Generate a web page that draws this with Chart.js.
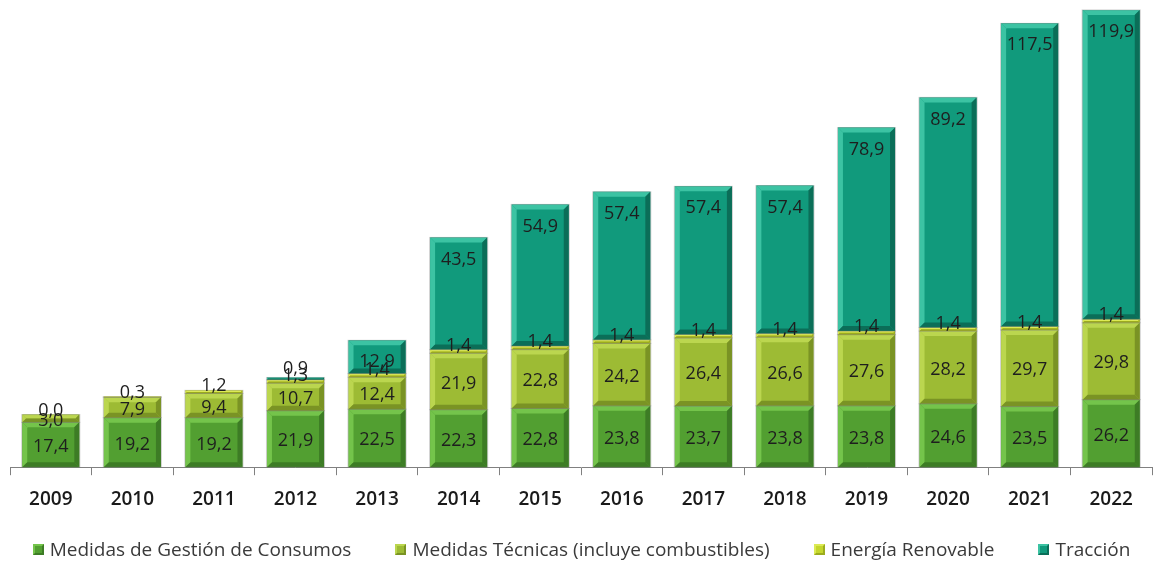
<!DOCTYPE html>
<html>
<head>
<meta charset="utf-8">
<script src="https://cdn.jsdelivr.net/npm/chart.js@4/dist/chart.umd.min.js"></script>
<style>
  html, body { margin: 0; padding: 0; background: #fff; }
  #wrap { position: relative; width: 1163px; height: 563px; }
  #legend {
    position: absolute; left: 0; top: 536px; width: 1163px; height: 26px;
    display: flex; justify-content: center; align-items: center; gap: 44px;
    font-family: "Open Sans", "Noto Sans", sans-serif; font-size: 19px; color: #3a3a3a;
  }
  #legend .item { display: flex; align-items: center; white-space: nowrap; }
  #legend .box {
    width: 7px; height: 7px; margin-right: 6px;
    border: 2px solid; box-sizing: content-box;
  }
</style>
</head>
<body>
<div id="wrap">
  <canvas id="ahorroChart" width="1163" height="563"></canvas>
  <div id="legend"></div>
</div>
<script>
const years = ['2009', '2010', '2011', '2012', '2013', '2014', '2015', '2016', '2017', '2018', '2019', '2020', '2021', '2022'];
const gestionConsumos = [17.4, 19.2, 19.2, 21.9, 22.5, 22.3, 22.8, 23.8, 23.7, 23.8, 23.8, 24.6, 23.5, 26.2];
const medidasTecnicas = [3.0, 7.9, 9.4, 10.7, 12.4, 21.9, 22.8, 24.2, 26.4, 26.6, 27.6, 28.2, 29.7, 29.8];
const energiaRenovable = [0.0, 0.3, 1.2, 1.3, 1.4, 1.4, 1.4, 1.4, 1.4, 1.4, 1.4, 1.4, 1.4, 1.4];
const traccion = [null, null, null, 0.9, 12.9, 43.5, 54.9, 57.4, 57.4, 57.4, 78.9, 89.2, 117.5, 119.9];

const seriesNames = ['Medidas de Gestión de Consumos', 'Medidas Técnicas (incluye combustibles)', 'Energía Renovable', 'Tracción'];
const seriesData = [gestionConsumos, medidasTecnicas, energiaRenovable, traccion];

// base / light / dark tones for each series
const palette = [
    { base: '#529f31', light: '#74c44b', dark: '#3d7c25' },
    { base: '#9dbb34', light: '#bbd64f', dark: '#7a9324' },
    { base: '#c4d62c', light: '#dcea55', dark: '#9cac1e' },
    { base: '#119a7c', light: '#3cc3a3', dark: '#0b6e58' },
];

const fmt = (v) => v.toFixed(1).replace('.', ',');
const fontFamily = '"Open Sans", "Noto Sans", sans-serif';

// beveled look for each bar segment
const bevelPlugin = {
    id: 'bevel',
    afterDatasetsDraw(chart) {
        const ctx = chart.ctx;
        chart.data.datasets.forEach((ds, i) => {
            const meta = chart.getDatasetMeta(i);
            const tone = palette[i];
            meta.data.forEach((bar) => {
                const p = bar.getProps(['x', 'y', 'base', 'width'], true);
                const top = Math.min(p.y, p.base);
                const bottom = Math.max(p.y, p.base);
                const h = bottom - top;
                if (!(h > 0.5)) return;
                const l = p.x - p.width / 2;
                const r = p.x + p.width / 2;
                const b = Math.min(5, h / 2);
                const poly = (pts, color) => {
                    ctx.beginPath();
                    ctx.moveTo(pts[0][0], pts[0][1]);
                    for (let k = 1; k < pts.length; k++) ctx.lineTo(pts[k][0], pts[k][1]);
                    ctx.closePath();
                    ctx.fillStyle = color;
                    ctx.fill();
                };
                ctx.save();
                poly([[l, top], [r, top], [r - b, top + b], [l + b, top + b]], tone.light);
                poly([[l, top], [l + b, top + b], [l + b, bottom - b], [l, bottom]], tone.light);
                poly([[r, top], [r, bottom], [r - b, bottom - b], [r - b, top + b]], tone.dark);
                poly([[l, bottom], [l + b, bottom - b], [r - b, bottom - b], [r, bottom]], tone.dark);
                ctx.strokeStyle = 'rgba(120,120,120,0.35)';
                ctx.lineWidth = 1;
                ctx.strokeRect(l - 0.5, top, p.width + 1, h);
                ctx.restore();
            });
        });
    }
};

// value labels on the segments
const valueLabels = {
    id: 'valueLabels',
    afterDatasetsDraw(chart) {
        const ctx = chart.ctx;
        ctx.save();
        ctx.font = '18px ' + fontFamily;
        ctx.fillStyle = '#1e1e1e';
        ctx.textAlign = 'center';
        ctx.textBaseline = 'middle';
        chart.data.datasets.forEach((ds, i) => {
            const meta = chart.getDatasetMeta(i);
            meta.data.forEach((bar, j) => {
                const v = ds.data[j];
                if (v === null || v === undefined) return;
                const p = bar.getProps(['x', 'y', 'base'], true);
                const top = Math.min(p.y, p.base);
                const h = Math.abs(p.base - p.y);
                let y;
                if (i === 2) {
                    y = top - 4;
                } else if (i === 3) {
                    y = h > 20 ? top + 22 : top - 9;
                } else {
                    y = top + h / 2 + 2;
                }
                ctx.fillText(fmt(v), p.x, y);
            });
        });
        ctx.restore();
    }
};

const ctx = document.getElementById('ahorroChart').getContext('2d');
new Chart(ctx, {
    type: 'bar',
    data: {
        labels: years,
        datasets: seriesNames.map((name, i) => ({
            label: name,
            data: seriesData[i],
            backgroundColor: palette[i].base,
            borderWidth: 0,
            barPercentage: 0.7,
            categoryPercentage: 1,
        })),
    },
    options: {
        responsive: false,
        animation: false,
        layout: { padding: { top: 3, left: 10, right: 11, bottom: 39 } },
        scales: {
            x: {
                stacked: true,
                border: { display: true, color: '#808080', width: 1 },
                grid: { offset: true, drawOnChartArea: false, drawTicks: true, tickLength: 8, color: '#808080' },
                ticks: {
                    color: '#1a1a1a',
                    padding: 13,
                    font: { family: fontFamily, size: 19, weight: 600 },
                },
            },
            y: {
                stacked: true,
                display: false,
                min: 0,
                max: 180,
            },
        },
        plugins: {
            legend: { display: false },
            tooltip: { enabled: false },
        },
    },
    plugins: [bevelPlugin, valueLabels],
});

// legend row below the chart
const legendEl = document.getElementById('legend');
seriesNames.forEach((name, i) => {
    const item = document.createElement('span');
    item.className = 'item';
    const box = document.createElement('span');
    box.className = 'box';
    box.style.background = palette[i].base;
    box.style.borderColor = `${palette[i].light} ${palette[i].dark} ${palette[i].dark} ${palette[i].light}`;
    const text = document.createElement('span');
    text.textContent = name;
    item.appendChild(box);
    item.appendChild(text);
    legendEl.appendChild(item);
});
</script>
</body>
</html>
